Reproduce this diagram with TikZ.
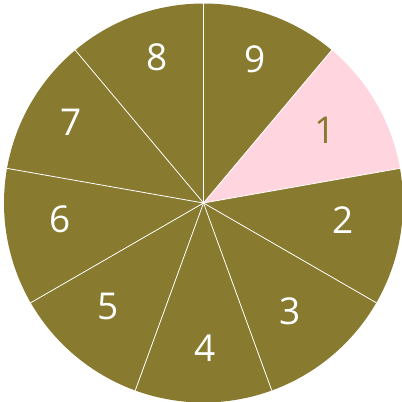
\documentclass[tikz,border=0pt]{standalone}
\usepackage{fontspec}
\setmainfont{Open Sans}
\definecolor{olive}{HTML}{887A2E}
\definecolor{pinkk}{HTML}{FFD6E0}
\begin{document}
\begin{tikzpicture}[x=1pt,y=1pt,
  lbl/.style={text=white,font=\fontsize{37}{37}\selectfont,inner sep=0pt}]
\useasboundingbox (0,0) rectangle (402,402);
\coordinate (c) at (203.5,199);
\def\R{199.5}
\foreach \i/\a in {9/90,1/50,2/10,3/-30,4/-70,5/-110,6/-150,7/-190,8/-230}{
  \pgfmathsetmacro{\b}{\a-40}
  \ifnum\i=1
    \fill[pinkk] (c) -- ++(\a:\R) arc[start angle=\a,end angle=\b,radius=\R] -- cycle;
  \else
    \fill[olive] (c) -- ++(\a:\R) arc[start angle=\a,end angle=\b,radius=\R] -- cycle;
  \fi
}
\foreach \a in {90,50,10,-30,-70,-110,-150,-190,-230}{
  \draw[white,line width=0.8pt] (c) -- ++(\a:\R);
}
\node[lbl] (n9) at (255,343) {9};
\node[lbl,text=olive] (n1) at (325.5,271.5) {1};
\node[lbl] (n2) at (343,182) {2};
\node[lbl] (n3) at (290,91) {3};
\node[lbl] (n4) at (205,54) {4};
\node[lbl] (n5) at (108,96) {5};
\node[lbl] (n6) at (60,183) {6};
\node[lbl] (n7) at (71,280) {7};
\node[lbl] (n8) at (157,345) {8};
\end{tikzpicture}
\end{document}
